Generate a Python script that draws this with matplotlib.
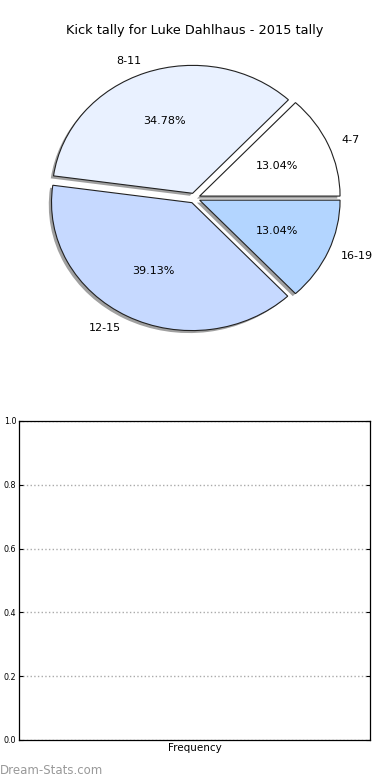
import matplotlib
matplotlib.use('Agg')
import matplotlib.pyplot as plt

# Kick tally slices
labels = ['4-7', '8-11', '12-15', '16-19']
counts = [3, 8, 9, 3]
colors = ['#ffffff', '#e9f1ff', '#c6d9ff', '#b3d5ff']
explode = [0.04, 0.04, 0.04, 0.04]

# empty frequency panel
yticks = [0.0, 0.2, 0.4, 0.6, 0.8, 1.0]

fig = plt.figure(figsize=(3.9, 7.8), dpi=100)

# pie chart (stretched, like old matplotlib without equal aspect)
ax1 = fig.add_axes([0.0487, 0.541, 0.9, 0.41])
wedges, texts, autotexts = ax1.pie(counts, labels=labels, colors=colors, explode=explode,
                                   autopct='%1.2f%%', startangle=0,
                                   shadow={'ox': -0.014, 'oy': -0.014, 'facecolor': '#888888',
                                           'alpha': 0.8, 'edgecolor': 'none'},
                                   wedgeprops={'linewidth': 0.8, 'edgecolor': '#222222'},
                                   textprops={'fontsize': 8})
ax1.set_aspect('auto')
ax1.set_xlim(-1.25, 1.25)
ax1.set_ylim(-1.25, 1.25)
ax1.set_title('Kick tally for Luke Dahlhaus - 2015 tally', fontsize=9.3, pad=3)

# empty axes below
ax2 = fig.add_axes([0.0487, 0.0513, 0.9, 0.409])
ax2.set_ylim(0, 1)
ax2.set_yticks(yticks)
ax2.set_yticklabels(['%.1f' % t for t in yticks], fontsize=5.8)
ax2.set_xticks([])
ax2.tick_params(axis='y', direction='in', right=True, length=3, width=0.8, pad=2)
ax2.yaxis.grid(True, linestyle=':', color='#aaaaaa', linewidth=1)
ax2.set_xlabel('Frequency', fontsize=7.5, labelpad=2)
for s in ax2.spines.values():
    s.set_linewidth(0.9)

fig.text(0.0, 0.008, 'Dream-Stats.com', fontsize=8.5, color='#999999')

fig.savefig('out.png', dpi=100)
